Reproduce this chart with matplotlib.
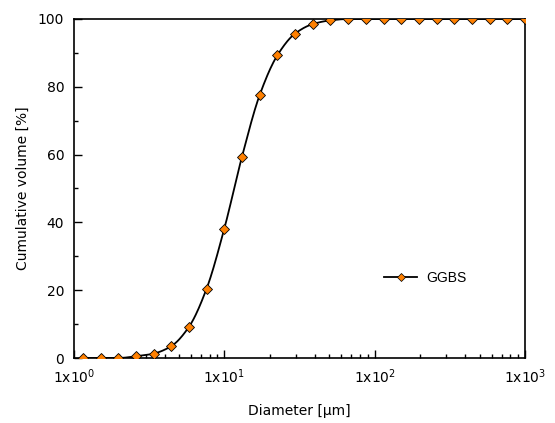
import matplotlib
matplotlib.use("Agg")
import matplotlib.pyplot as plt
import numpy as np
from matplotlib.ticker import LogLocator, FixedLocator, NullFormatter

# particle size distribution
diameter = [1.145, 1.501, 1.968, 2.581, 3.384, 4.437, 5.818, 7.627, 10.0,
            13.11, 17.19, 22.54, 29.55, 38.74, 50.80, 66.61, 87.33, 114.5,
            150.1, 196.8, 258.1, 338.4, 443.7, 581.8, 762.7, 1000.0]
cum_volume = [0, 0, 0, 0.5, 1.3, 3.5, 9.2, 20.5, 38.2,
              59.4, 77.6, 89.3, 95.7, 98.5, 99.6, 100, 100, 100,
              100, 100, 100, 100, 100, 100, 100, 100]
series_name = "GGBS"
xtick_vals = [1, 10, 100, 1000]
xtick_labels = [r"1x10$^{0}$", r"1x10$^{1}$", r"1x10$^{2}$", r"1x10$^{3}$"]


def pchip(x, y, xn):
    # monotone cubic, keeps the curve from overshooting
    h = np.diff(x)
    d = np.diff(y) / h
    m = np.zeros_like(y)
    for i in range(1, len(x) - 1):
        if d[i - 1] * d[i] > 0:
            w1 = 2 * h[i] + h[i - 1]
            w2 = h[i] + 2 * h[i - 1]
            m[i] = (w1 + w2) / (w1 / d[i - 1] + w2 / d[i])
    m[0] = d[0]
    m[-1] = d[-1]
    idx = np.clip(np.searchsorted(x, xn) - 1, 0, len(x) - 2)
    t = (xn - x[idx]) / h[idx]
    h00 = 2 * t**3 - 3 * t**2 + 1
    h10 = t**3 - 2 * t**2 + t
    h01 = -2 * t**3 + 3 * t**2
    h11 = t**3 - t**2
    return (h00 * y[idx] + h10 * h[idx] * m[idx]
            + h01 * y[idx + 1] + h11 * h[idx] * m[idx + 1])


lx = np.log10(diameter)
cv = np.array(cum_volume, dtype=float)
fine = np.linspace(lx[0], lx[-1], 600)
smooth = pchip(lx, cv, fine)

plt.rcParams["font.family"] = "DejaVu Sans"
fig = plt.figure(figsize=(5.55, 4.23), dpi=100)
ax = fig.add_axes([74 / 555, 1 - 358 / 423, 451 / 555, 339 / 423])

ax.plot(10 ** fine, smooth, color="black", lw=1.3, zorder=2)
ax.plot(diameter, cum_volume, ls="none", marker="D", ms=5.5,
        mfc="#ff8000", mec="black", mew=0.6, zorder=3)
# legend proxy
ax.plot([], [], color="black", lw=1.3, marker="D", ms=4.5,
        mfc="#ff8000", mec="black", mew=0.5, label=series_name)

ax.set_xscale("log")
ax.set_xlim(1, 1000)
ax.set_ylim(0, 100)
ax.xaxis.set_major_locator(FixedLocator(xtick_vals))
ax.set_xticklabels(xtick_labels)
ax.xaxis.set_minor_locator(LogLocator(base=10, subs=np.arange(2, 10)))
ax.xaxis.set_minor_formatter(NullFormatter())
ax.set_yticks([0, 20, 40, 60, 80, 100])
ax.set_yticks([10, 30, 50, 70, 90], minor=True)

ax.tick_params(which="both", direction="in", top=False, right=False,
               labelsize=10, width=1, pad=7)
ax.tick_params(which="major", length=6)
ax.tick_params(which="minor", length=3)
for s in ax.spines.values():
    s.set_linewidth(1.2)

ax.set_xlabel("Diameter [\u03bcm]", fontsize=10, labelpad=13)
ax.set_ylabel("Cumulative volume [%]", fontsize=10, labelpad=6)

ax.legend(loc="center left", bbox_to_anchor=(0.66, 0.235), frameon=False,
          prop={"family": "Liberation Sans", "size": 10}, handlelength=2.4,
          handletextpad=0.6)

fig.savefig("out.png", dpi=100)
